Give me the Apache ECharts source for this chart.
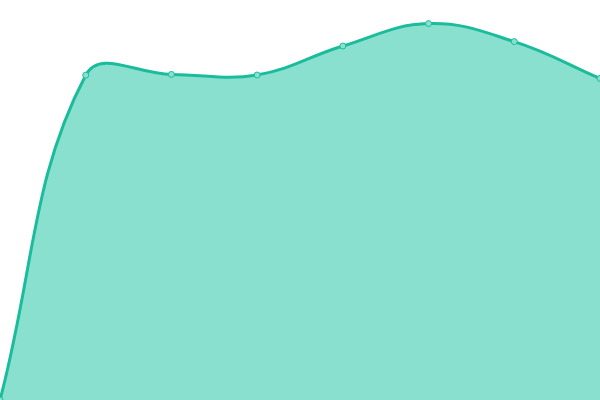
<!DOCTYPE html>
<html>
<head>
<meta charset="utf-8">
<script src="https://cdn.jsdelivr.net/npm/echarts@6/dist/echarts.min.js"></script>
<style>
  html, body { margin: 0; padding: 0; background: #fff; }
  #chart { width: 600px; height: 400px; }
</style>
</head>
<body>
<div id="chart"></div>
<script>
const categories = ["1", "2", "3", "4", "5", "6", "7", "8"];
const values = [0, 81.2, 81.4, 81.25, 88.5, 94.1, 89.6, 80.4];

const LINE_COLOR = "#1abc9c";
const FILL_COLOR = "#8ae0cf";
const TENSION = 0.4;

// cardinal-style control points (prev/next neighbours), clamped to the plot area
function controlPoints(pts, rect) {
    const out = [];
    for (let i = 0; i < pts.length; i++) {
        const cur = pts[i];
        const prev = pts[i - 1] || cur;
        const next = pts[i + 1] || cur;
        const d01 = Math.hypot(cur[0] - prev[0], cur[1] - prev[1]);
        const d12 = Math.hypot(next[0] - cur[0], next[1] - cur[1]);
        let s01 = d01 / (d01 + d12);
        let s12 = d12 / (d01 + d12);
        if (isNaN(s01)) s01 = 0;
        if (isNaN(s12)) s12 = 0;
        const fa = TENSION * s01;
        const fb = TENSION * s12;
        const clampY = (y) => Math.max(rect.y, Math.min(rect.y + rect.height, y));
        const clampX = (x) => Math.max(rect.x, Math.min(rect.x + rect.width, x));
        out.push({
            prev: [clampX(cur[0] - fa * (next[0] - prev[0])), clampY(cur[1] - fa * (next[1] - prev[1]))],
            next: [clampX(cur[0] + fb * (next[0] - prev[0])), clampY(cur[1] + fb * (next[1] - prev[1]))],
        });
    }
    return out;
}

function curvePath(pts, cps) {
    let d = "M" + pts[0][0] + " " + pts[0][1];
    for (let i = 1; i < pts.length; i++) {
        const a = cps[i - 1].next;
        const b = cps[i].prev;
        d += " C" + a[0] + " " + a[1] + " " + b[0] + " " + b[1] + " " + pts[i][0] + " " + pts[i][1];
    }
    return d;
}

function renderItem(params, api) {
    const p = api.coord([api.value(0), api.value(1)]);
    const dot = {
        type: "circle",
        shape: { cx: p[0], cy: p[1], r: 3 },
        style: { fill: FILL_COLOR, stroke: LINE_COLOR, lineWidth: 1 },
        z2: 10,
    };
    if (params.dataIndex !== 0) return dot;

    const rect = params.coordSys;
    const pts = values.map((v, i) => api.coord([i, v]));
    const cps = controlPoints(pts, rect);
    const line = curvePath(pts, cps);
    const bottom = rect.y + rect.height;
    const area = line + " L" + pts[pts.length - 1][0] + " " + bottom + " L" + pts[0][0] + " " + bottom + " Z";
    return {
        type: "group",
        children: [
            { type: "path", shape: { pathData: area }, style: { fill: FILL_COLOR, stroke: null } },
            { type: "path", shape: { pathData: line }, style: { fill: null, stroke: LINE_COLOR, lineWidth: 3 } },
            dot,
        ],
    };
}

const chart = echarts.init(document.getElementById("chart"));

const option = {
    animation: false,
    grid: { left: 0, right: 0, top: 0, bottom: 0 },
    xAxis: {
        type: "category",
        data: categories,
        boundaryGap: false,
        show: false,
    },
    yAxis: {
        type: "value",
        min: 0,
        max: 100,
        show: false,
    },
    series: [{
        type: "custom",
        renderItem: renderItem,
        encode: { x: 0, y: 1 },
        data: values.map((v, i) => [i, v]),
    }],
};

chart.setOption(option);
</script>
</body>
</html>
